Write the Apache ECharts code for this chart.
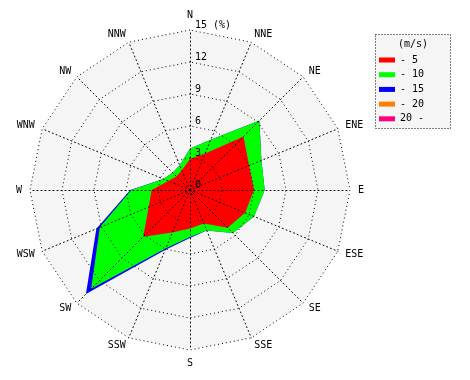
<!DOCTYPE html>
<html><head><meta charset="utf-8">
<script src="https://cdn.jsdelivr.net/npm/echarts@6/dist/echarts.min.js"></script>
<style>html,body{margin:0;padding:0;background:#fff}#c{width:470px;height:380px}</style>
</head><body><div id="c"></div>
<script>
// compass directions, clockwise from north
const directions = ['N','NNE','NE','ENE','E','ESE','SE','SSE','S','SSW','SW','WSW','W','WNW','NW','NNW'];
// cumulative frequency (%) of wind up to each speed class
const upTo5  = [2.9, 3.7, 7.1, 6.0, 6.0, 5.6, 5.0, 3.4, 3.6, 4.3, 6.2, 4.2, 3.6, 2.2, 1.8, 2.0];
const upTo10 = [3.9, 5.1, 9.2, 7.25, 7.0, 6.5, 5.7, 4.1, 4.4, 5.9, 13.1, 9.15, 5.5, 2.7, 2.3, 2.5];
const upTo15 = [3.9, 5.1, 9.2, 7.25, 7.0, 6.5, 5.7, 4.1, 4.5, 6.1, 13.8, 9.5, 5.6, 2.7, 2.3, 2.5];
const upTo20 = [];   // no observations in this class
const over20 = [];   // no observations in this class
const speedClasses = ['- 5', '- 10', '- 15', '- 20', '20 -'];
const classColors = ['#ff0000', '#00ff00', '#0000ff', '#ff8000', '#ff0080'];
const radialMax = 15;
const radialSplits = 5;
const unitLabel = '(m/s)';

const FONT = 'DejaVu Sans Mono';
// ECharts radar lays indicators counter-clockwise: reorder to read clockwise
const order = directions.map((d, i) => (directions.length - i) % directions.length);
const reorder = arr => arr.length ? order.map(i => arr[i]) : [];

const geom = { center: [190, 190], radius: 160, startAngle: 90, shape: 'polygon', splitNumber: radialSplits };
const dots = { color: '#000', width: 1, type: [1, 3] };

const chart = echarts.init(document.getElementById('c'), null, { renderer: 'canvas' });
const classData = [upTo5, upTo10, upTo15, upTo20, over20];
const seriesList = [];
for (let k = classData.length - 1; k >= 0; k--) {
  seriesList.push({
    type: 'radar', radarIndex: 0, name: speedClasses[k], z: 2,
    symbol: 'none', silent: true,
    itemStyle: { color: classColors[k] },
    lineStyle: { width: 0, color: classColors[k] },
    areaStyle: { color: classColors[k], opacity: 1 },
    data: classData[k].length ? [{ value: reorder(classData[k]) }] : []
  });
}

chart.setOption({
  animation: false,
  radar: [
    Object.assign({}, geom, {
      z: 0,
      indicator: reorder(directions).map(n => ({ name: n, min: 0, max: radialMax })),
      axisName: { show: false },
      splitLine: { show: false }, axisLine: { show: false }, axisTick: { show: false }, axisLabel: { show: false },
      splitArea: { show: true, areaStyle: { color: ['#f5f5f5'] } }
    }),
    Object.assign({}, geom, {
      z: 5,
      indicator: reorder(directions).map((n, i) => i === 0
        ? { name: n, min: 0, max: radialMax, axisLabel: { show: true } }
        : { name: n, min: 0, max: radialMax }),
      axisNameGap: 8,
      axisName: {
        color: '#000', fontFamily: FONT, fontSize: 10,
        formatter: n => (n === 'N' ? '{n|' + n + '}' : n),
        rich: { n: { color: '#000', fontFamily: FONT, fontSize: 10, lineHeight: 4 } }
      },
      splitLine: { lineStyle: dots }, axisLine: { lineStyle: dots }, axisTick: { show: false },
      axisLabel: {
        show: false, color: '#000', fontFamily: FONT, fontSize: 10,
        margin: -5, align: 'left', verticalAlign: 'bottom',
        formatter: v => (v === radialMax ? v + ' (%)' : String(v))
      },
      splitArea: { show: false }
    })
  ],
  legend: {
    orient: 'vertical', left: 379, top: 55, padding: 0, itemWidth: 16, itemHeight: 5, itemGap: 4.7,
    icon: 'rect', data: speedClasses, selectedMode: false,
    textStyle: { fontFamily: FONT, fontSize: 10, color: '#000' }
  },
  graphic: [
    { type: 'rect', z: 1, shape: { x: 375.5, y: 34.5, width: 75, height: 94 },
      style: { fill: '#f5f5f5', stroke: '#000', lineWidth: 1, lineDash: [1, 2] } },
    { type: 'text', z: 6, x: 413, y: 44,
      style: { text: unitLabel, font: '10px ' + FONT, fill: '#000', align: 'center', verticalAlign: 'middle', textAlign: 'center', textVerticalAlign: 'middle' } }
  ],
  series: seriesList
});
</script></body></html>
